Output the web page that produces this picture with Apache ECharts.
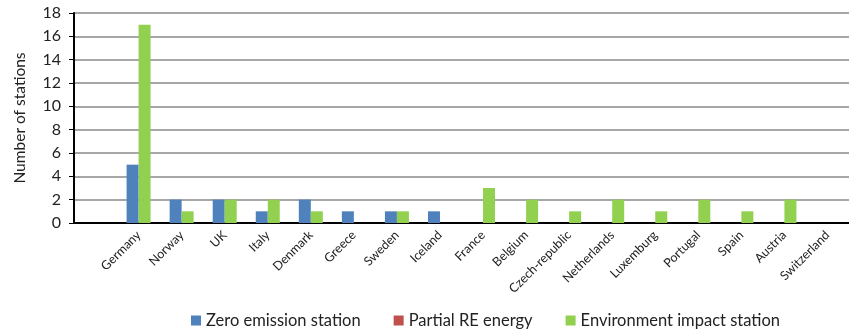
<!DOCTYPE html>
<html>
<head>
<meta charset="utf-8">
<script src="https://cdn.jsdelivr.net/npm/echarts@6/dist/echarts.min.js"></script>
<style>
html,body{margin:0;padding:0;background:#fff;}
#chart{width:849px;height:330px;}
</style>
</head>
<body>
<div id="chart"></div>
<script>
const categories = ['', 'Germany', 'Norway', 'UK', 'Italy', 'Denmark', 'Greece', 'Sweden', 'Iceland', 'France', 'Belgium', 'Czech-republic', 'Netherlands', 'Luxemburg', 'Portugal', 'Spain', 'Austria', 'Switzerland'];
const zeroEmission = [null, 5, 2, 2, 1, 2, 1, 1, 1, 0, 0, 0, 0, 0, 0, 0, 0, 0];
const partialRE = [null, 0, 0, 0, 0, 0, 0, 0, 0, 0, 0, 0, 0, 0, 0, 0, 0, 0];
const envImpact = [null, 17, 1, 2, 2, 1, 0, 1, 0, 3, 2, 1, 2, 1, 2, 1, 2, 0];
const yTicks = [0, 2, 4, 6, 8, 10, 12, 14, 16, 18];

const FONT = 'Lato, "Liberation Sans", sans-serif';
const chart = echarts.init(document.getElementById('chart'), null, {renderer: 'canvas'});
chart.setOption({
  animation: false,
  textStyle: {fontFamily: FONT},
  grid: {left: 74, top: 13, width: 785, height: 210, containLabel: false},
  legend: {
    left: 186, top: 307,
    itemWidth: 10, itemHeight: 10, itemGap: 33,
    icon: 'rect',
    textStyle: {fontFamily: FONT, fontSize: 16.5, color: '#222'},
    data: ['Zero emission station', 'Partial RE energy', 'Environment impact station']
  },
  xAxis: [{
    type: 'category',
    data: categories,
    axisLine: {lineStyle: {color: '#000', width: 2}},
    axisTick: {show: false},
    axisLabel: {rotate: 45, interval: 0, fontSize: 12.5, color: '#222', margin: 10, fontFamily: FONT},
    splitLine: {show: false}
  }, {
    type: 'category',
    data: categories,
    show: false,
    position: 'bottom'
  }],
  yAxis: {
    type: 'value',
    min: yTicks[0], max: yTicks[yTicks.length - 1], interval: 2,
    name: 'Number of stations',
    nameLocation: 'middle',
    nameGap: 46,
    nameRotate: 90,
    nameTextStyle: {fontSize: 15.5, color: '#222', fontFamily: FONT},
    axisLine: {show: true, lineStyle: {color: '#000', width: 2}},
    axisTick: {show: true, length: 5, lineStyle: {color: '#000'}},
    axisLabel: {fontSize: 16, color: '#222', margin: 13, fontFamily: FONT},
    splitLine: {lineStyle: {color: '#8a8a8a', width: 1.5}}
  },
  series: [{
    name: 'Zero emission station', type: 'bar', xAxisIndex: 0,
    data: zeroEmission, barWidth: 12, barGap: '0%',
    itemStyle: {color: '#4F81BD'}
  }, {
    name: 'Partial RE energy', type: 'bar', xAxisIndex: 1,
    data: partialRE, barWidth: 12,
    itemStyle: {color: '#C0504D'}
  }, {
    name: 'Environment impact station', type: 'bar', xAxisIndex: 0,
    data: envImpact, barWidth: 12, barGap: '0%',
    itemStyle: {color: '#92D050'}
  }]
});
</script>
</body>
</html>
